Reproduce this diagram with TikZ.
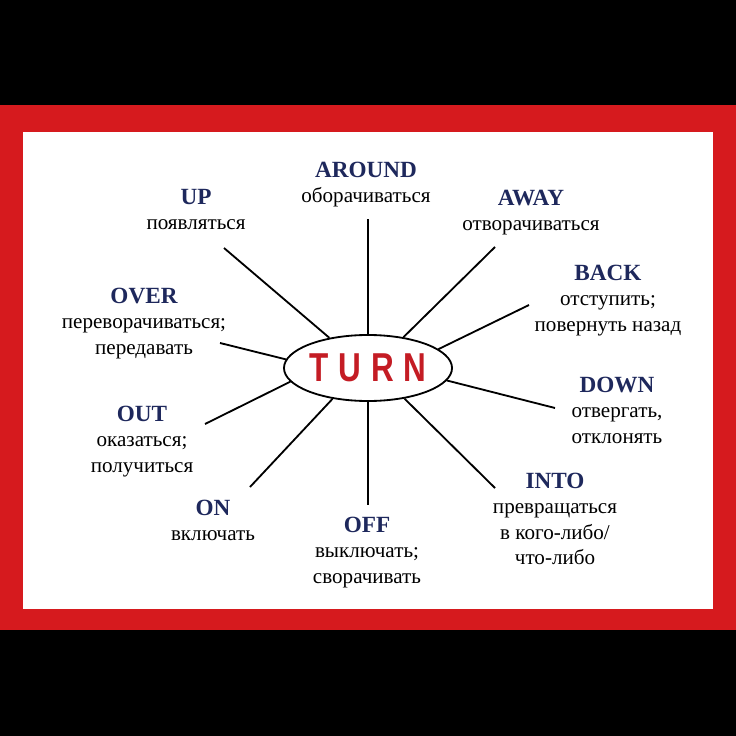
\documentclass[tikz,border=0pt]{standalone}
\usepackage{fontspec}
\setmainfont{Liberation Serif}
\newfontfamily\turnfont[FakeStretch=0.78]{Liberation Sans}
\usetikzlibrary{positioning}
\usetikzlibrary{shapes.geometric}

\definecolor{framered}{RGB}{214,26,30}
\definecolor{turnred}{RGB}{196,28,36}
\definecolor{navy}{RGB}{30,40,92}
\newcommand\particle[1]{{\color{navy}\bfseries\fontsize{16.5}{18}\selectfont #1}}

\begin{document}
\begin{tikzpicture}[x=0.025cm, y=-0.025cm,
    word/.style={anchor=north, inner sep=0pt, align=center, font=\fontsize{15}{18}\selectfont},
    spoke/.style={line width=1.3pt}]
  % frame
  \useasboundingbox (0,0) rectangle (736,736);
  \fill[black] (0,0) rectangle (736,736);
  \fill[framered] (0,105) rectangle (736,630);
  \fill[white] (23,132) rectangle (713,609);

  % the verb in the middle
  \node[ellipse, draw, line width=1.3pt, minimum width=4.2cm, minimum height=1.65cm, inner sep=0pt] (turn) at (368,368)
    {\turnfont\bfseries\fontsize{28.7}{30}\selectfont\color{turnred}T\hspace{0.25cm}U\hspace{0.25cm}R\hspace{0.25cm}N};

  % outer ends of the spokes
  \coordinate (eAround) at (368,219);
  \coordinate (eUp) at (224,248);
  \coordinate (eAway) at (495,247);
  \coordinate (eBack) at (529,305);
  \coordinate (eOver) at (220,343);
  \coordinate (eDown) at (555,408);
  \coordinate (eOut) at (205,424);
  \coordinate (eOn) at (250,487);
  \coordinate (eOff) at (368,505);
  \coordinate (eInto) at (495,488);

  \foreach \ang/\e in {90/Around, 142/Up, 41/Away, 15/Back, 174/Over, 351/Down, 190/Out, 221/On, 270/Off, 320/Into} {
    \draw[spoke] (turn.\ang) -- (e\e);
  }

  % particles with translations
  \node[word] (around) at (366,162) {\particle{AROUND}\\оборачиваться};
  \node[word] (up) at (196,189) {\particle{UP}\\появляться};
  \node[word] (away) at (531,190) {\particle{AWAY}\\отворачиваться};
  \node[word] (back) at (608,265) {\particle{BACK}\\отступить;\\повернуть назад};
  \node[word] (over) at (144,288) {\particle{OVER}\\переворачиваться;\\передавать};
  \node[word] (down) at (617,377) {\particle{DOWN}\\отвергать,\\отклонять};
  \node[word] (out) at (142,406) {\particle{OUT}\\оказаться;\\получиться};
  \node[word] (on) at (213,500) {\particle{ON}\\включать};
  \node[word] (off) at (367,517) {\particle{OFF}\\выключать;\\сворачивать};
  \node[word] (into) at (555,473) {\particle{INTO}\\превращаться\\в кого-либо/\\что-либо};
\end{tikzpicture}
\end{document}
